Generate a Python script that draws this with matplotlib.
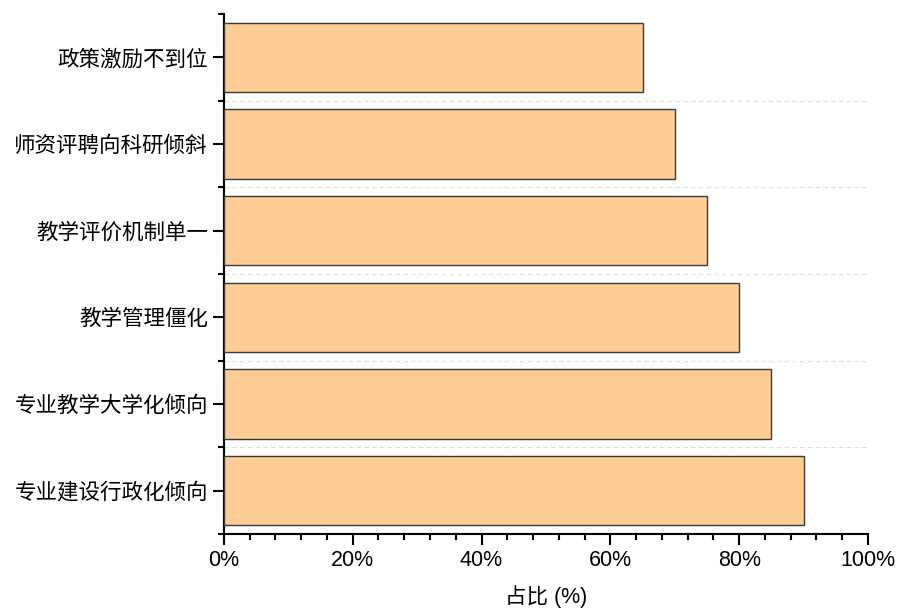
import matplotlib
matplotlib.use("Agg")
import matplotlib.pyplot as plt
from matplotlib.ticker import MultipleLocator, FuncFormatter

plt.rcParams['font.family'] = ['Liberation Sans', 'Noto Sans CJK SC', 'DejaVu Sans']

# bottom to top
categories = ['专业建设行政化倾向', '专业教学大学化倾向', '教学管理僵化',
              '教学评价机制单一', '师资评聘向科研倾斜', '政策激励不到位']
shares = [90, 85, 80, 75, 70, 65]

fig = plt.figure(figsize=(8.99, 6.11), dpi=100)
ax = fig.add_axes([0.249, 0.126, 0.7165, 0.851])

pos = list(range(len(categories)))
ax.barh(pos, shares, height=0.8, color='#FDCD93', edgecolor='#3a3a3a',
        linewidth=1.0, zorder=3)

# dashed separators between categories
seps = [p + 0.5 for p in pos[:-1]]
ax.hlines(seps, 0, 100, colors='#dddddd', linestyles=(0, (4, 3)), linewidth=0.8, zorder=0)

ax.set_xlim(0, 100)
ax.set_ylim(-0.5, len(categories) - 0.5)
ax.set_yticks(pos)
ax.set_yticklabels(categories, fontsize=15.5, fontweight='light')
ax.yaxis.set_minor_locator(MultipleLocator(1, offset=0.5))

ax.xaxis.set_major_locator(MultipleLocator(20))
ax.xaxis.set_minor_locator(MultipleLocator(4))
ax.xaxis.set_major_formatter(FuncFormatter(lambda v, p: f"{v:.0f}%"))
ax.tick_params(axis='x', which='major', labelsize=15.5)
ax.tick_params(axis='both', which='major', direction='out', length=8, width=1.5)
ax.tick_params(axis='both', which='minor', direction='out', length=4, width=1.5)

for s in ['top', 'right']:
    ax.spines[s].set_visible(False)
for s in ['left', 'bottom']:
    ax.spines[s].set_linewidth(1.5)

ax.set_xlabel('占比 (%)', fontsize=15.5, fontweight='light', labelpad=10)

fig.savefig('out.png', dpi=100)
